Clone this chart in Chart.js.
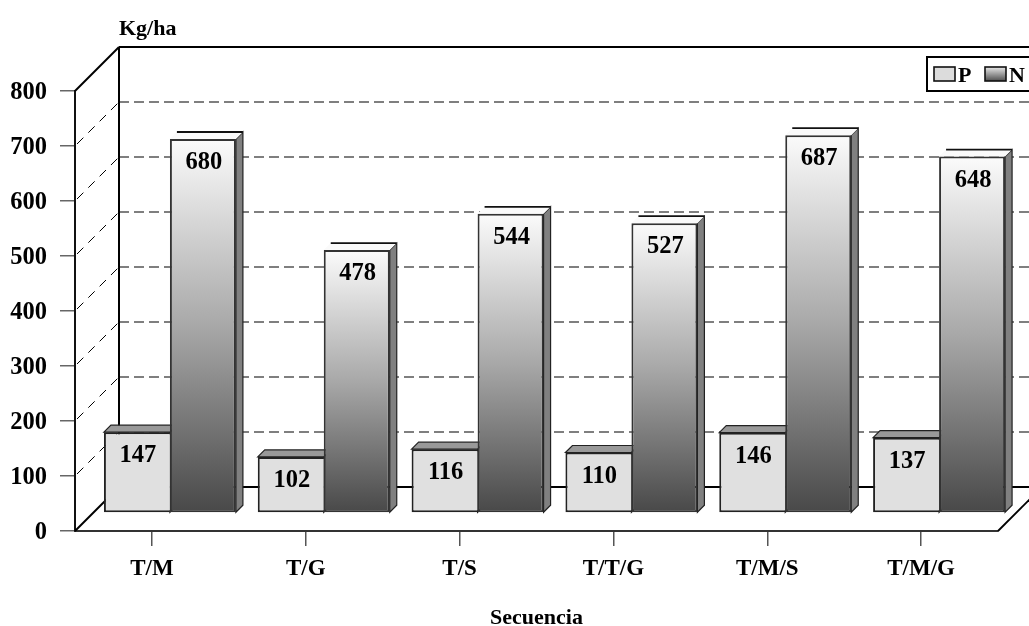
<!DOCTYPE html>
<html>
<head>
<meta charset="utf-8">
<script src="https://cdn.jsdelivr.net/npm/chart.js@4"></script>
<style>
  html, body { margin: 0; padding: 0; background: #fff; overflow: hidden; }
  #chart { display: block; }
</style>
</head>
<body>
<canvas id="chart" width="1029" height="626"></canvas>
<script>
const categories = ['T/M', 'T/G', 'T/S', 'T/T/G', 'T/M/S', 'T/M/G'];
const pValues = [147, 102, 116, 110, 146, 137];
const nValues = [680, 478, 544, 527, 687, 648];
const seriesNames = ['P', 'N'];

const FONT = '"Liberation Serif", "Times New Roman", serif';
const WALL = 44;      // depth of the floor
const BAR_SHIFT = 18; // bars stand this far back from the front edge
const BAR_DEPTH = 7;

const canvas = document.getElementById('chart');
const ctx = canvas.getContext('2d');

function nGradient(context) {
  const chart = context.chart;
  const y = chart.scales.y;
  if (context.raw === undefined || !y) return '#999';
  const y0 = y.getPixelForValue(context.raw);
  const y1 = y.getPixelForValue(0);
  if (!isFinite(y0) || !isFinite(y1)) return '#999';
  const g = chart.ctx.createLinearGradient(0, y0, 0, y1);
  g.addColorStop(0, '#fbfbfb');
  g.addColorStop(0.5, '#a8a8a8');
  g.addColorStop(1, '#484848');
  return g;
}

function poly(c, pts, fill, stroke, lw) {
  c.beginPath();
  pts.forEach((p, i) => i ? c.lineTo(p[0], p[1]) : c.moveTo(p[0], p[1]));
  c.closePath();
  if (fill) { c.fillStyle = fill; c.fill(); }
  if (stroke) { c.strokeStyle = stroke; c.lineWidth = lw; c.stroke(); }
}

function line(c, x0, y0, x1, y1, color, lw, dash) {
  c.beginPath();
  c.setLineDash(dash || []);
  c.strokeStyle = color;
  c.lineWidth = lw;
  c.moveTo(x0, y0);
  c.lineTo(x1, y1);
  c.stroke();
  c.setLineDash([]);
}

// walls, floor and the grid on them
const wallsPlugin = {
  id: 'walls',
  beforeDatasetsDraw(chart) {
    const c = chart.ctx;
    const { left, right, bottom } = chart.chartArea;
    const y = chart.scales.y;
    c.save();
    y.ticks.forEach(t => {
      const py = y.getPixelForValue(t.value);
      if (t.value === 0) return;
      if (t.value === y.max) {
        line(c, left, py, left + WALL, py - WALL, '#000', 2);
        line(c, left + WALL, py - WALL, chart.width, py - WALL, '#000', 2);
      } else {
        line(c, left + 2, py - 2, left + WALL, py - WALL, '#000', 1, [9, 7]);
        line(c, left + WALL, py - WALL, chart.width, py - WALL, '#555', 1.5, [10, 5]);
      }
    });
    // back corner and floor
    line(c, left + WALL, y.getPixelForValue(y.max) - WALL, left + WALL, bottom - WALL, '#000', 2);
    line(c, left + WALL, bottom - WALL, chart.width, bottom - WALL, '#000', 2);
    line(c, left, bottom, left + WALL, bottom - WALL, '#000', 2);
    line(c, right, bottom, right + WALL, bottom - WALL, '#000', 1.8);

    // sides and tops of the bars, behind their front faces
    chart.data.datasets.forEach((ds, i) => {
      chart.getDatasetMeta(i).data.forEach(bar => {
        const x0 = bar.x - bar.width / 2 + BAR_SHIFT;
        const x1 = bar.x + bar.width / 2 + BAR_SHIFT;
        const top = bar.y - BAR_SHIFT;
        const base = bar.base - BAR_SHIFT;
        const d = BAR_DEPTH;
        poly(c, [[x1, top], [x1 + d, top - d], [x1 + d, base - d], [x1, base]], '#808080', '#222', 1.2);
        if (i === 0) {
          poly(c, [[x0, top], [x0 + d, top - d], [x1 + d, top - d], [x1, top]], '#999', '#222', 1.2);
        } else {
          poly(c, [[x0, top], [x0 + d, top - d], [x1 + d, top - d], [x1, top]], '#fafafa');
          line(c, x0 + d, top - d, x1 + d, top - d, '#111', 1.8);
        }
      });
    });
    c.translate(BAR_SHIFT, -BAR_SHIFT);
  },
  afterDatasetsDraw(chart) {
    const c = chart.ctx;
    c.restore();
    c.save();
    c.font = 'bold 24.5px ' + FONT;
    c.fillStyle = '#000';
    c.textAlign = 'center';
    c.textBaseline = 'alphabetic';
    chart.data.datasets.forEach((ds, i) => {
      chart.getDatasetMeta(i).data.forEach((bar, k) => {
        c.fillText(String(ds.data[k]), bar.x + BAR_SHIFT + 1, bar.y - BAR_SHIFT + 30);
      });
    });
    c.restore();
  },
  afterDraw(chart) {
    const c = chart.ctx;
    c.save();
    c.fillStyle = '#000';
    c.font = 'bold 22px ' + FONT;
    c.textAlign = 'left';
    c.textBaseline = 'alphabetic';
    c.fillText('Kg/ha', 119, 35);

    // legend box runs off the right edge
    c.fillStyle = '#fff';
    c.fillRect(927, 57, 110, 34);
    c.strokeStyle = '#000';
    c.lineWidth = 2;
    c.strokeRect(927, 57, 110, 34);
    const swatchX = [934, 985];
    seriesNames.forEach((name, i) => {
      const g = c.createLinearGradient(0, 67, 0, 82);
      g.addColorStop(0, '#e8e8e8');
      g.addColorStop(1, '#444');
      c.fillStyle = i === 0 ? '#dcdcdc' : g;
      c.fillRect(swatchX[i], 67, 21, 14);
      c.strokeStyle = '#111';
      c.lineWidth = 1.6;
      c.strokeRect(swatchX[i], 67, 21, 14);
      c.fillStyle = '#000';
      c.font = 'bold 22px ' + FONT;
      c.fillText(name, swatchX[i] + 24, 82);
    });
    c.restore();
  }
};

new Chart(ctx, {
  type: 'bar',
  data: {
    labels: categories,
    datasets: [
      { label: seriesNames[0], data: pValues, backgroundColor: '#e0e0e0', borderColor: '#222', borderWidth: { top: 2, right: 0, bottom: 2, left: 2 }, borderSkipped: false },
      { label: seriesNames[1], data: nValues, backgroundColor: nGradient, borderColor: '#333', borderWidth: 2, borderSkipped: false }
    ]
  },
  options: {
    responsive: false,
    devicePixelRatio: 1,
    animation: false,
    categoryPercentage: 0.858,
    barPercentage: 1,
    layout: { padding: { top: 91, right: 31, left: 0, bottom: 0 } },
    plugins: { legend: { display: false }, tooltip: { enabled: false } },
    scales: {
      x: {
        afterFit(scale) { scale.height = 95; },
        grid: { offset: false, drawOnChartArea: false, tickLength: 15, color: '#555', lineWidth: 1.5 },
        border: { color: '#333', width: 2 },
        ticks: { color: '#000', font: { family: FONT, size: 23, weight: 'bold' }, padding: 9, maxRotation: 0 },
        title: { display: true, text: 'Secuencia', color: '#000', font: { family: FONT, size: 22, weight: 'bold', lineHeight: 1 }, padding: { top: 0, bottom: -3 } }
      },
      y: {
        min: 0,
        max: 800,
        afterFit(scale) { scale.width = 75; },
        grid: { drawOnChartArea: false, tickLength: 15, color: '#666', lineWidth: 1.5 },
        border: { color: '#111', width: 2 },
        ticks: { stepSize: 100, color: '#000', font: { family: FONT, size: 24.5, weight: 'bold' }, padding: 13, labelOffset: 2 }
      }
    }
  },
  plugins: [wallsPlugin]
});
</script>
</body>
</html>
